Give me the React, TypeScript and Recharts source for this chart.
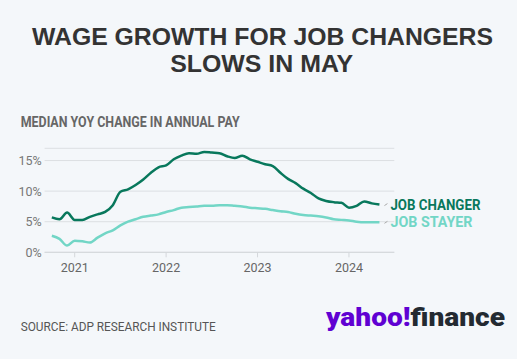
import { LineChart, Line, XAxis, YAxis, CartesianGrid, LabelList } from 'recharts';

const months = [
  '2020-10', '2020-11', '2020-12',
  '2021-01', '2021-02', '2021-03', '2021-04', '2021-05', '2021-06',
  '2021-07', '2021-08', '2021-09', '2021-10', '2021-11', '2021-12',
  '2022-01', '2022-02', '2022-03', '2022-04', '2022-05', '2022-06',
  '2022-07', '2022-08', '2022-09', '2022-10', '2022-11', '2022-12',
  '2023-01', '2023-02', '2023-03', '2023-04', '2023-05', '2023-06',
  '2023-07', '2023-08', '2023-09', '2023-10', '2023-11', '2023-12',
  '2024-01', '2024-02', '2024-03', '2024-04', '2024-05',
];

const jobChanger = [
  5.7, 5.4, 6.5,
  5.3, 5.3, 5.8, 6.2, 6.6, 7.7, 9.9, 10.3, 11.0, 11.9, 13.0, 13.9,
  14.2, 15.2, 15.8, 16.2, 16.1, 16.4, 16.3, 16.2, 15.7, 15.4, 15.8, 15.2,
  14.8, 14.4, 14.1, 13.0, 12.0, 11.3, 10.4, 9.7, 8.8, 8.4, 8.2, 8.1,
  7.3, 7.6, 8.3, 8.0, 7.8,
];

const jobStayer = [
  2.7, 2.2, 1.1,
  1.9, 1.8, 1.6, 2.4, 3.1, 3.6, 4.4, 5.0, 5.4, 5.8, 6.0, 6.2,
  6.6, 6.9, 7.3, 7.4, 7.5, 7.6, 7.6, 7.7, 7.7, 7.6, 7.5, 7.3,
  7.2, 7.1, 6.9, 6.7, 6.6, 6.3, 6.1, 6.0, 5.9, 5.7, 5.4, 5.3,
  5.2, 5.0, 4.9, 4.9, 4.9,
];

const yearLabels = ['2021', '2022', '2023', '2024'];
const yTicks = [0, 5, 10, 15];

const CHANGER = '#08785c';
const STAYER = '#72d6c6';

const data = months.map((m, i) => ({
  idx: i,
  month: m,
  changer: jobChanger[i],
  stayer: jobStayer[i],
}));

const yearTicks = yearLabels.map((y) => months.indexOf(`${y}-01`));

function endLabel(name: string, color: string, len: number) {
  return (props: any) => {
    const { x, y, index } = props;
    if (index !== data.length - 1) return null;
    return (
      <g>
        <line x1={x + 5} y1={y + 1} x2={x + 8} y2={y - 1} stroke="#aaa" strokeWidth={1} />
        <text
          x={x + 11}
          y={y + 5}
          fill={color}
          fontSize={14.5}
          fontWeight={700}
          fontFamily="Roboto, sans-serif"
          textLength={len}
          lengthAdjust="spacingAndGlyphs"
        >
          {name}
        </text>
      </g>
    );
  };
}

export default function App() {
  return (
    <div
      style={{
        position: 'absolute',
        left: 0,
        top: 0,
        width: 517,
        height: 359,
        background: '#f4f7fa',
        overflow: 'hidden',
      }}
    >
      <svg width={517} height={359} style={{ position: 'absolute', left: 0, top: 0 }}>
        <text
          x={262.5}
          y={45}
          textAnchor="middle"
          fontSize={24}
          fontWeight={700}
          fill="#333"
          fontFamily="'Liberation Sans', Arial, sans-serif"
          textLength={461}
          lengthAdjust="spacingAndGlyphs"
        >
          WAGE GROWTH FOR JOB CHANGERS
        </text>
        <text
          x={261.7}
          y={72}
          textAnchor="middle"
          fontSize={24}
          fontWeight={700}
          fill="#333"
          fontFamily="'Liberation Sans', Arial, sans-serif"
          textLength={183}
          lengthAdjust="spacingAndGlyphs"
        >
          SLOWS IN MAY
        </text>
        <text
          x={20.7}
          y={126.7}
          fontSize={14}
          fontWeight={700}
          fill="#666"
          fontFamily="Roboto, sans-serif"
          textLength={219}
          lengthAdjust="spacingAndGlyphs"
        >
          MEDIAN YOY CHANGE IN ANNUAL PAY
        </text>
        <text
          x={20.7}
          y={330.7}
          fontSize={12}
          fill="#555"
          fontFamily="Roboto, sans-serif"
          textLength={195}
          lengthAdjust="spacingAndGlyphs"
        >
          SOURCE: ADP RESEARCH INSTITUTE
        </text>
        <text
          x={326}
          y={326}
          fontSize={26}
          fontWeight={900}
          fontFamily="Roboto, sans-serif"
          textLength={179}
          lengthAdjust="spacingAndGlyphs"
        >
          <tspan fill="#6001d2">yahoo!</tspan>
          <tspan fill="#232a31">finance</tspan>
        </text>
      </svg>
      <div style={{ position: 'absolute', left: 0, top: 0 }}>
        <LineChart
          width={517}
          height={359}
          data={data}
          margin={{ top: 148.3, right: 122.7, bottom: 76.7, left: 0 }}
          style={{ fontFamily: 'Roboto, sans-serif' }}
        >
          <CartesianGrid vertical={false} stroke="#dcdfe3" strokeWidth={1} />
          <XAxis
            dataKey="idx"
            type="number"
            domain={[-0.95, 44.95]}
            ticks={yearTicks}
            tickFormatter={(v: number) => months[v].slice(0, 4)}
            height={30}
            stroke="#d4d7db"
            tickSize={5}
            tickMargin={6}
            tick={{ fill: '#666', fontSize: 12.5 }}
            tickLine={{ stroke: '#d4d7db' }}
          />
          <YAxis
            type="number"
            domain={[0, 17]}
            ticks={yTicks}
            width={44.6}
            axisLine={false}
            tickLine={false}
            tickSize={0}
            tickMargin={3}
            tickFormatter={(v: number) => `${v}%`}
            tick={{ fill: '#777', fontSize: 12.5 }}
          />
          <Line
            type="monotone"
            dataKey="stayer"
            stroke={STAYER}
            strokeWidth={2.5}
            dot={false}
            isAnimationActive={false}
          >
            <LabelList dataKey="stayer" content={endLabel('JOB STAYER', STAYER, 82)} />
          </Line>
          <Line
            type="monotone"
            dataKey="changer"
            stroke={CHANGER}
            strokeWidth={2.5}
            dot={false}
            isAnimationActive={false}
          >
            <LabelList dataKey="changer" content={endLabel('JOB CHANGER', CHANGER, 90)} />
          </Line>
        </LineChart>
      </div>
    </div>
  );
}
